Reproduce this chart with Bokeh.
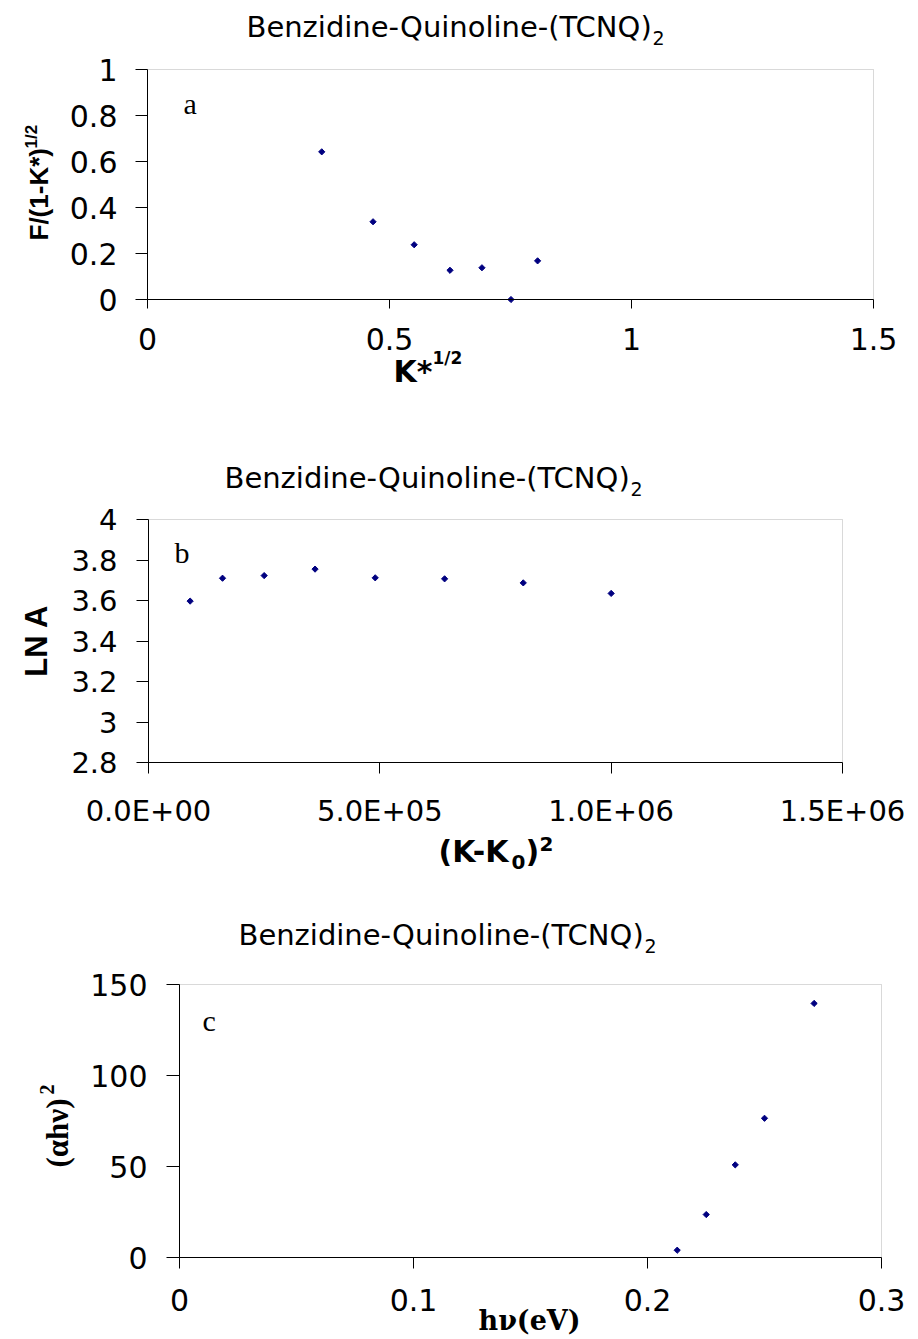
import math
from bokeh.plotting import figure
from bokeh.models import (Label, Range1d, FixedTicker, CustomJSTickFormatter,
                          LinearAxis, BoxAnnotation)
from bokeh.embed import file_html
from bokeh.resources import INLINE

# ---------------- data ----------------
title_text = "Benzidine-Quinoline-(TCNQ)"
title_sub = "2"

# panel a
a_x = [0.360, 0.466, 0.551, 0.625, 0.691, 0.751, 0.806]
a_y = [0.642, 0.338, 0.238, 0.127, 0.138, 0.000, 0.168]
a_xticks = [0, 0.5, 1, 1.5]
a_xtick_labels = ["0", "0.5", "1", "1.5"]
a_yticks = [0, 0.2, 0.4, 0.6, 0.8, 1]
a_ytick_labels = ["0", "0.2", "0.4", "0.6", "0.8", "1"]

# panel b
b_x = [90000, 160000, 250000, 360000, 490000, 640000, 810000, 1000000]
b_y = [3.597, 3.710, 3.723, 3.755, 3.712, 3.707, 3.687, 3.635]
b_xticks = [0, 500000, 1000000, 1500000]
b_xtick_labels = ["0.0E+00", "5.0E+05", "1.0E+06", "1.5E+06"]
b_yticks = [2.8, 3.0, 3.2, 3.4, 3.6, 3.8, 4.0]
b_ytick_labels = ["2.8", "3", "3.2", "3.4", "3.6", "3.8", "4"]

# panel c
c_x = [0.2127, 0.2251, 0.2375, 0.2500, 0.2712]
c_y = [4.0, 23.6, 50.9, 76.5, 139.6]
c_xticks = [0, 0.1, 0.2, 0.3]
c_xtick_labels = ["0", "0.1", "0.2", "0.3"]
c_yticks = [0, 50, 100, 150]
c_ytick_labels = ["0", "50", "100", "150"]

SANS = "DejaVu Sans"
ARIAL = "Liberation Sans"
SERIF = "Liberation Serif"
DSERIF = "DejaVu Serif"
MARK = "#000080"

W, H = 918, 1339          # canvas placed at the page origin
OX, OY = 0, 0


def cx(px):               # page x -> canvas x
    return px - OX


def cy(py):               # page y -> canvas y measured from the bottom
    return OY + H - py


def span(d0, d1, p0, p1, total):
    k = (d1 - d0) / (p1 - p0)
    return Range1d(d0 - p0 * k, d0 + (total - p0) * k)


p = figure(width=W, height=H, x_range=Range1d(0, W), y_range=Range1d(0, H),
           x_axis_type=None, y_axis_type=None, output_backend="svg",
           toolbar_location=None, min_border=0, title_location=None)
p.min_border_left = p.min_border_right = p.min_border_top = p.min_border_bottom = 0
p.outline_line_color = None
p.background_fill_color = "white"
p.border_fill_color = "white"


def style_axis(ax, ticks, labels, tick_out, standoff, size, font=SANS):
    ax.ticker = FixedTicker(ticks=ticks)
    ax.formatter = CustomJSTickFormatter(
        args=dict(tv=ticks, tl=labels),
        code="const i = tv.indexOf(tick); return i >= 0 ? tl[i] : '';")
    ax.axis_line_color = "black"
    ax.major_tick_line_color = "black"
    ax.major_tick_out = tick_out
    ax.major_tick_in = 0
    ax.minor_tick_out = 0
    ax.minor_tick_in = 0
    ax.minor_tick_line_color = None
    ax.major_label_text_font = font
    ax.major_label_text_font_size = f"{size}px"
    ax.major_label_standoff = standoff
    ax.major_label_text_color = "black"


def panel(tag, frame, xt, xl, yt, yl, xs, ys, xtick=(9, 14, 30), ytick=(12, 18, 30)):
    L, T, R, B = frame
    x0, x1 = xt[0], xt[-1]
    y0, y1 = yt[0], yt[-1]
    p.extra_x_ranges[tag + "x"] = span(x0, x1, cx(L), cx(R), W)
    p.extra_y_ranges[tag + "y"] = span(y0, y1, cy(B), cy(T), H)
    kw = dict(x_range_name=tag + "x", y_range_name=tag + "y")
    p.add_layout(BoxAnnotation(left=x0, right=x1, bottom=y0, top=y1,
                               fill_color=None, line_color="#808080",
                               line_width=1, level="underlay", **kw))
    xa = LinearAxis(fixed_location=y0, bounds=(x0, x1), **kw)
    style_axis(xa, xt, xl, *xtick)
    p.add_layout(xa, "below")
    ya = LinearAxis(fixed_location=x0, bounds=(y0, y1), **kw)
    style_axis(ya, yt, yl, *ytick)
    p.add_layout(ya, "left")
    p.scatter(xs, ys, marker="square", angle=math.pi / 4, size=4.4,
              color=MARK, **kw)


def lab(px, py, text, size, font=SANS, style="normal", align="left", angle=0.0):
    # (px, py): page position of the text's left end (or centre) and middle line
    p.add_layout(Label(x=cx(px), y=cy(py), x_units="screen", y_units="screen",
                       text=text, text_font=font, text_font_size=f"{size}px",
                       text_font_style=style, text_align=align,
                       text_baseline="middle", angle=angle,
                       text_color="black"))


def title(x0, mid):
    lab(x0, mid, title_text, 29)
    lab(x0 + 406, mid + 11, title_sub, 19)


# ---------------- panel a ----------------
panel("a", (147, 69, 873, 299), a_xticks, a_xtick_labels, a_yticks, a_ytick_labels,
      a_x, a_y, xtick=(9, 19, 30), ytick=(12, 18, 30))
title(246, 26)
lab(38, 240, "F/(1-K*)", 26, font=ARIAL, style="bold", angle=math.pi / 2)
lab(31, 148, "1/2", 17, font=ARIAL, style="bold", angle=math.pi / 2)
lab(393, 371, "K*", 30, style="bold")
lab(432, 357, "1/2", 17, style="bold")
lab(183, 103, "a", 30, font=SERIF)

# ---------------- panel b ----------------
panel("b", (148, 519, 842, 762), b_xticks, b_xtick_labels, b_yticks, b_ytick_labels,
      b_x, b_y, xtick=(11, 20, 29), ytick=(12, 19, 29))
title(224, 477)
lab(36, 640, "LN A", 31, font=ARIAL, style="bold", align="center", angle=math.pi / 2)
lab(438, 851, "(K-K", 30, style="bold")
lab(511, 861, "0", 20, style="bold")
lab(525, 851, ")", 30, style="bold")
lab(539, 843, "2", 20, style="bold")
lab(174, 552, "b", 30, font=SERIF)

# ---------------- panel c ----------------
panel("c", (179, 984, 881, 1257), c_xticks, c_xtick_labels, c_yticks, c_ytick_labels,
      c_x, c_y, xtick=(11, 20, 30), ytick=(13, 19, 30))
title(238, 934)
lab(57, 1167, "(\u03b1h\u03bd)", 31, font=SERIF, style="bold", angle=math.pi / 2)
lab(46, 1094, "2", 20, font=SERIF, style="bold", angle=math.pi / 2)
lab(478, 1320, "h\u03bd(eV)", 27, font=DSERIF, style="bold")
lab(202, 1020, "c", 30, font=SERIF)

open("out.html", "w").write(file_html(p, INLINE))
